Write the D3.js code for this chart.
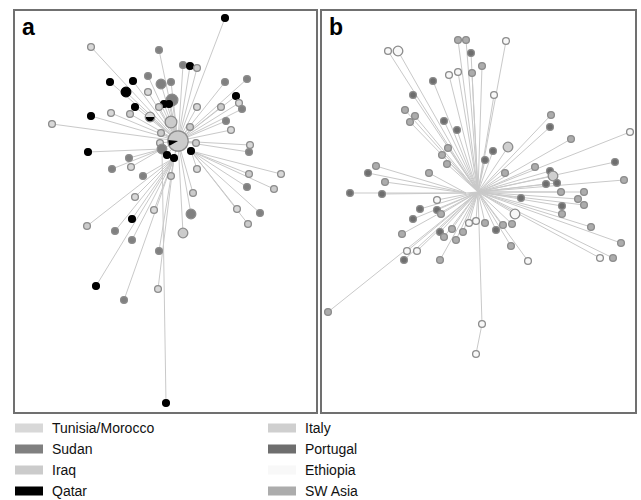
<!DOCTYPE html>
<html>
<head>
<meta charset="utf-8">
<script src="https://cdn.jsdelivr.net/npm/d3@7"></script>
<style>
  body { margin: 0; background: #fff; }
  svg { display: block; }
</style>
</head>
<body>
<div id="chart-container"></div>
<script>
// groups shown in each panel's legend
var groupsA = ["Tunisia/Morocco", "Sudan", "Iraq", "Qatar"];
var groupsB = ["Italy", "Portugal", "Ethiopia", "SW Asia"];
var groupKeysA = ["T", "S", "I", "Q"];
var groupKeysB = ["It", "P", "E", "W"];

// haplotype nodes: [x, y, count, group, parent] in layout units of each panel
var nodesA = [
    [164,131,9,"I+Q",-1],
    [211,8,1,"Q",0],[77,37,1,"T",0],[145,40,1,"S",0],[169,55,1,"S",0],[176,56,1,"Q",0],
    [183,58,1,"I",0],[134,66,1,"S",0],[147,74,2,"S",0],[157,72,1,"S",0],[96,72,1,"Q",0],
    [119,71,1,"Q",0],[112,82,2,"Q",0],[134,82,1,"T",0],[158,90,3,"S",0],[150,94,1,"Q",0],
    [155,94,1,"Q",0],[121,97,1,"Q",0],[145,97,1,"I",0],[77,106,1,"Q",0],[97,103,1,"T",0],
    [116,104,1,"I",0],[136,107,2,"T+Q",0],[38,114,1,"T",0],[157,112,3,"I",0],[183,97,1,"T",0],
    [211,72,1,"S",0],[233,69,1,"S",0],[207,97,1,"I",0],[222,86,1,"Q",0],[225,93,1,"T",0],
    [228,99,1,"S",0],[212,111,1,"S",0],[176,117,1,"I",0],[217,120,1,"T",0],[147,123,1,"I",0],
    [146,133,1,"T",0],[182,133,1,"I",0],[236,135,1,"T",0],[235,142,1,"S",0],[148,139,2,"S",0],
    [153,145,1,"Q",0],[160,148,1,"Q",0],[177,141,1,"Q",0],[74,142,1,"Q",40],[115,148,1,"S",40],
    [117,157,1,"T",40],[98,159,1,"S",40],[129,166,1,"S",42],[157,166,1,"I",42],[183,159,1,"T",43],
    [235,164,1,"I",43],[267,164,1,"T",43],[233,177,1,"S",43],[260,179,1,"I",43],[121,187,1,"T",42],
    [179,183,1,"I",0],[223,199,1,"T",43],[246,203,1,"S",43],[234,214,1,"I",43],[140,200,1,"T",42],
    [118,209,1,"Q",42],[73,216,1,"I",42],[101,221,1,"S",42],[118,230,1,"S",42],[177,204,2,"S",0],
    [169,223,2,"I",0],[145,241,1,"S",42],[82,276,1,"Q",42],[144,279,1,"T",42],[110,290,1,"S",42],
    [152,393,1,"Q",40]
];

var nodesB = [
    [157,182,0,"",-1],
    [137,30,1,"W",0],[145,30,1,"W",0],[185,31,1,"E",0],[67,41,1,"E",0],[77,41,2,"E",0],
    [150,43,1,"P",0],[161,56,1,"W",0],[112,71,1,"P",0],[128,65,1,"E",0],[137,62,1,"E",0],
    [151,63,1,"W",0],[92,85,1,"P",0],[173,85,1,"E",0],[84,100,1,"W",0],[94,106,1,"W",0],
    [89,112,1,"W",0],[123,111,1,"P",0],[136,120,1,"P",0],[230,105,1,"W",0],[229,117,1,"P",0],
    [250,129,1,"W",0],[309,122,1,"E",0],[127,138,1,"W",0],[121,145,1,"W",0],[126,154,1,"W",0],
    [172,141,1,"P",0],[187,137,2,"It",0],[164,150,1,"P",0],[214,157,1,"W",0],[55,156,1,"W",81],
    [47,163,1,"P",81],[64,172,1,"W",81],[108,163,1,"W",81],[184,163,1,"W",0],[229,161,1,"P",0],
    [232,166,2,"It",0],[225,174,1,"P",0],[236,173,1,"P",0],[294,152,1,"P",0],[303,170,1,"W",0],
    [29,183,1,"P",81],[61,184,1,"P",81],[240,182,1,"W",0],[263,182,1,"W",0],[200,188,1,"P",0],
    [116,190,1,"E",0],[257,189,1,"W",0],[99,199,1,"P",0],[116,200,1,"P",0],[120,204,1,"W",0],
    [92,209,1,"P",0],[81,224,1,"W",0],[119,222,1,"P",0],[123,227,1,"W",0],[131,219,1,"W",0],
    [142,222,1,"W",0],[148,213,1,"E",0],[155,211,1,"E",0],[164,213,1,"W",0],[135,230,1,"W",0],
    [86,241,1,"E",0],[96,241,1,"E",0],[83,250,1,"P",0],[119,250,1,"W",0],[175,220,1,"P",0],
    [182,215,1,"W",0],[191,214,1,"W",0],[194,204,2,"E",0],[190,236,1,"W",0],[207,251,1,"E",0],
    [241,196,1,"P",0],[241,204,1,"W",0],[263,195,1,"W",0],[270,217,1,"W",0],[300,233,1,"W",0],
    [279,248,1,"E",0],[292,248,1,"W",0],[7,302,1,"W",0],[161,314,1,"E",0],[155,344,1,"E",79],
    [145,183,0,"",0]
];

// share of each group in the mixed nodes
var mixedShares = {
    "I+Q": [["I", 90], ["Q", 10]],
    "T+Q": [["T", 50], ["Q", 50]]
};
var mixedStart = { "I+Q": 276, "T+Q": 270 };

var colors = {
    T: "#d8d8d8", S: "#808080", I: "#cbcbcb", Q: "#000000",
    It: "#cfcfcf", P: "#6e6e6e", E: "#f8f8f8", W: "#acacac"
};

var svg = d3.select("#chart-container").append("svg")
    .attr("width", 641).attr("height", 500);

var r = d3.scaleSqrt().domain([0, 1]).range([0, 3.4]);

function drawPanel(nodes, label, box) {
    var x = d3.scaleLinear().domain([0, box.w]).range([box.x, box.x + box.w]);
    var y = d3.scaleLinear().domain([0, box.h]).range([box.y, box.y + box.h]);

    var g = svg.append("g");

    g.append("rect")
        .attr("x", box.x).attr("y", box.y)
        .attr("width", box.w).attr("height", box.h)
        .attr("fill", "#fff")
        .attr("stroke", "#707070")
        .attr("stroke-width", 2);

    // links to parent haplotype
    g.selectAll("line")
        .data(nodes.filter(function(d) { return d[4] >= 0; }))
        .enter()
        .append("line")
        .attr("x1", function(d) { return x(d[0]); })
        .attr("y1", function(d) { return y(d[1]); })
        .attr("x2", function(d) { return x(nodes[d[4]][0]); })
        .attr("y2", function(d) { return y(nodes[d[4]][1]); })
        .attr("stroke", "#c9c9c9")
        .attr("stroke-width", 1);

    var visible = nodes.filter(function(d) { return d[2] > 0; });

    visible.forEach(function(d) {
        var cx = x(d[0]), cy = y(d[1]), rad = r(d[2]);
        if (mixedShares[d[3]]) {
            var start = mixedStart[d[3]] * Math.PI / 180;
            var pie = d3.pie().sort(null).value(function(p) { return p[1]; })
                .startAngle(start).endAngle(start + 2 * Math.PI);
            var arc = d3.arc().innerRadius(0).outerRadius(rad);
            var pg = g.append("g").attr("transform", "translate(" + cx + "," + cy + ")");
            pg.selectAll("path")
                .data(pie(mixedShares[d[3]]))
                .enter()
                .append("path")
                .attr("d", arc)
                .attr("fill", function(p) { return colors[p.data[0]]; });
            pg.append("circle")
                .attr("r", rad)
                .attr("fill", "none")
                .attr("stroke", "#8c8c8c")
                .attr("stroke-width", 1.2);
        } else {
            g.append("circle")
                .attr("cx", cx).attr("cy", cy).attr("r", rad)
                .attr("fill", colors[d[3]])
                .attr("stroke", d[3] == "Q" ? "#000" : "#8c8c8c")
                .attr("stroke-width", 1.3);
        }
    });

    g.append("text")
        .attr("x", box.x + 8).attr("y", box.y + 25)
        .attr("font-family", "Liberation Sans, Arial, sans-serif")
        .attr("font-weight", "bold")
        .attr("font-size", 23)
        .text(label);
}

drawPanel(nodesA, "a", {x: 14, y: 10, w: 303, h: 403});
drawPanel(nodesB, "b", {x: 321, y: 10, w: 315, h: 403});

function drawLegend(names, keys, x0) {
    var yPos = d3.scalePoint().domain(d3.range(names.length)).range([428, 491]);
    var lg = svg.append("g");
    lg.selectAll("rect")
        .data(names)
        .enter()
        .append("rect")
        .attr("x", x0)
        .attr("y", function(d, i) { return yPos(i) - 4.5; })
        .attr("width", 28).attr("height", 9)
        .attr("fill", function(d, i) { return colors[keys[i]]; });
    lg.selectAll("text")
        .data(names)
        .enter()
        .append("text")
        .attr("x", x0 + 37)
        .attr("y", function(d, i) { return yPos(i) + 4.5; })
        .attr("font-family", "Liberation Sans, Arial, sans-serif")
        .attr("font-size", 14)
        .attr("fill", "#111")
        .text(function(d) { return d; });
}

drawLegend(groupsA, groupKeysA, 15);
drawLegend(groupsB, groupKeysB, 268);
</script>
</body>
</html>
